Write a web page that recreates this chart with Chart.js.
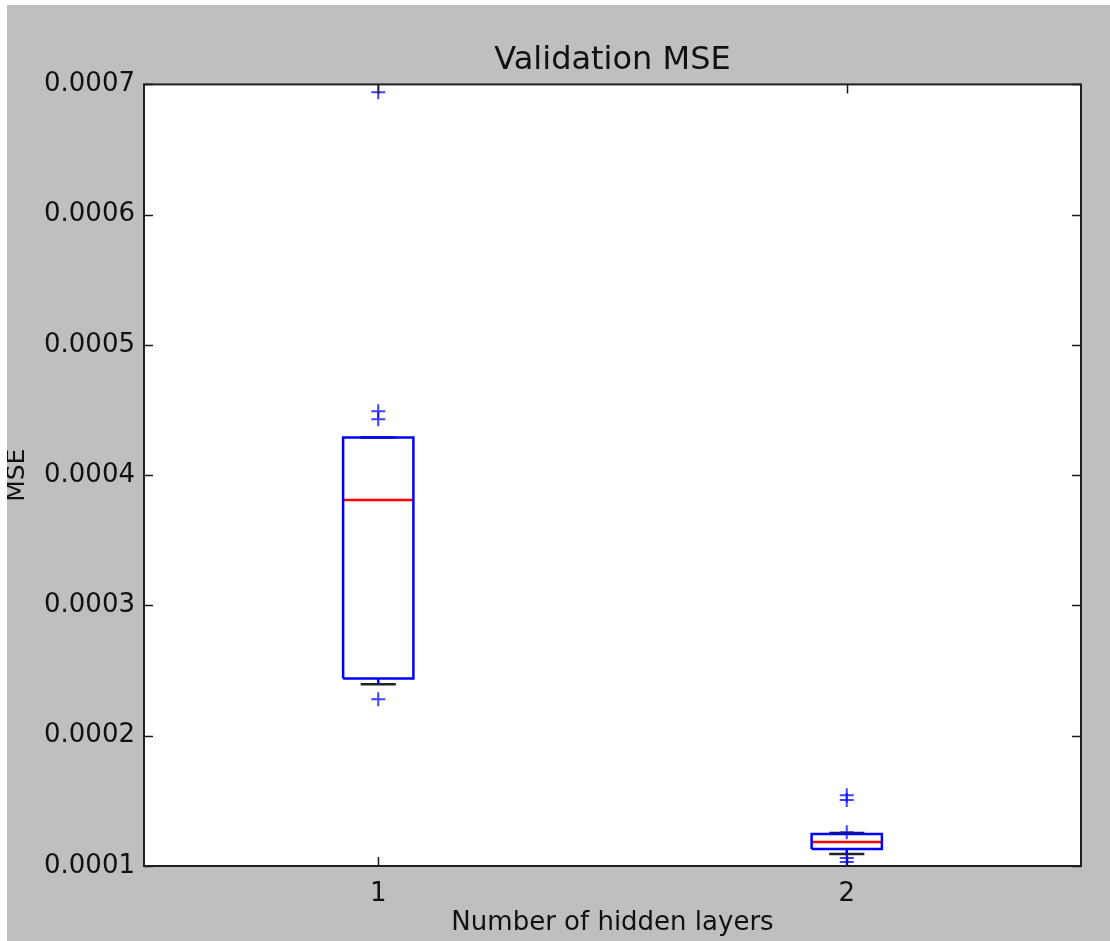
<!DOCTYPE html>
<html lang="en">

<head>
    <meta charset="UTF-8">
    <title>Validation MSE</title>
    <script src="https://cdn.jsdelivr.net/npm/chart.js"></script>
    <style>
        html, body { margin: 0; padding: 0; background: #ffffff; }
        .quadro { position: absolute; left: 7px; top: 5px; width: 1103px; height: 936px; background: #bfbfbf; }
        canvas { display: block; }
    </style>
</head>

<body>
    <div class="quadro">
        <canvas id="graficoMSE" width="1103" height="936"></canvas>
    </div>

<script>
    // numero de camadas escondidas (posicao de cada caixa)
    const camadas = [1, 2];
    // estatisticas de cada caixa
    const q1 = [0.000244, 0.0001130];
    const medianas = [0.000381, 0.0001184];
    const q3 = [0.000429, 0.0001245];
    const bigodeMin = [0.0002396, 0.0001092];
    const bigodeMax = [0.000429, 0.0001253];
    // pontos fora dos bigodes
    const outliers = [
        [0.000694, 0.000449, 0.000443, 0.000228],
        [0.0001544, 0.0001506, 0.000126, 0.0001061, 0.000103]
    ];
    const ticksY = [0.0001, 0.0002, 0.0003, 0.0004, 0.0005, 0.0006, 0.0007];

    const LARGURA_CAIXA = 0.15;
    const fonte = 'DejaVu Sans';

    function segmento(pontos, cor, extra) {
        return Object.assign({
            data: pontos,
            showLine: true,
            borderColor: cor,
            borderWidth: 2.5,
            pointRadius: 0,
            fill: false,
            tension: 0
        }, extra || {});
    }

    let datasets = [];
    for (let i = 0; i < camadas.length; i++) {
        const x = camadas[i];
        const m = LARGURA_CAIXA / 2;
        const c = LARGURA_CAIXA / 4;
        // caixa
        datasets.push(segmento([
            { x: x - m, y: q1[i] }, { x: x + m, y: q1[i] },
            { x: x + m, y: q3[i] }, { x: x - m, y: q3[i] },
            { x: x - m, y: q1[i] }
        ], '#0000ff'));
        // bigodes
        datasets.push(segmento([{ x: x, y: q1[i] }, { x: x, y: bigodeMin[i] }], '#0000ff', { borderDash: [6, 6] }));
        datasets.push(segmento([{ x: x, y: q3[i] }, { x: x, y: bigodeMax[i] }], '#0000ff', { borderDash: [6, 6] }));
        // tampas
        datasets.push(segmento([{ x: x - c, y: bigodeMin[i] }, { x: x + c, y: bigodeMin[i] }], '#222222'));
        datasets.push(segmento([{ x: x - c, y: bigodeMax[i] }, { x: x + c, y: bigodeMax[i] }], '#222222'));
        // mediana
        datasets.push(segmento([{ x: x - m, y: medianas[i] }, { x: x + m, y: medianas[i] }], '#ff0000'));
        // outliers
        datasets.push({
            data: outliers[i].map(function (v) { return { x: x, y: v }; }),
            showLine: false,
            pointStyle: 'cross',
            pointRadius: 7,
            pointBorderWidth: 2,
            pointBorderColor: 'rgba(0, 0, 255, 0.75)',
            pointBackgroundColor: 'rgba(0, 0, 255, 0.75)'
        });
    }

    // fundo branco da area do grafico, moldura e ticks para dentro
    const molduraPlugin = {
        id: 'moldura',
        beforeDraw(chart) {
            const a = chart.chartArea;
            const ctx = chart.ctx;
            ctx.save();
            ctx.fillStyle = '#ffffff';
            ctx.fillRect(a.left, a.top, a.right - a.left, a.bottom - a.top);
            ctx.restore();
        },
        afterDraw(chart) {
            const a = chart.chartArea;
            const ctx = chart.ctx;
            const tam = 9;
            ctx.save();
            ctx.strokeStyle = '#1a1a1a';
            ctx.lineWidth = 1.5;
            ctx.beginPath();
            chart.scales.y.ticks.forEach(function (t) {
                const py = Math.round(chart.scales.y.getPixelForValue(t.value)) + 0.5;
                ctx.moveTo(a.left, py); ctx.lineTo(a.left + tam, py);
                ctx.moveTo(a.right, py); ctx.lineTo(a.right - tam, py);
            });
            chart.scales.x.ticks.forEach(function (t) {
                const px = Math.round(chart.scales.x.getPixelForValue(t.value)) + 0.5;
                ctx.moveTo(px, a.bottom); ctx.lineTo(px, a.bottom - tam);
                ctx.moveTo(px, a.top); ctx.lineTo(px, a.top + tam);
            });
            ctx.stroke();
            ctx.lineWidth = 2;
            ctx.strokeStyle = '#202020';
            ctx.strokeRect(a.left, a.top, a.right - a.left, a.bottom - a.top);
            ctx.restore();
        }
    };

    const config = {
        type: 'scatter',
        data: { datasets: datasets },
        options: {
            responsive: false,
            animation: false,
            layout: { padding: { top: 0, right: 29, bottom: 0, left: 0 } },
            plugins: {
                legend: { display: false },
                tooltip: { enabled: false },
                title: {
                    display: true,
                    fullSize: false,
                    text: 'Validation MSE',
                    color: '#111111',
                    font: { family: fonte, size: 32, weight: 'normal', lineHeight: 1.2 },
                    padding: { top: 36, bottom: 5 }
                }
            },
            scales: {
                x: {
                    type: 'linear',
                    min: 0.5,
                    max: 2.5,
                    grid: { display: false, drawTicks: false },
                    border: { display: false },
                    afterBuildTicks: function (axis) {
                        axis.ticks = camadas.map(function (v) { return { value: v }; });
                    },
                    afterFit: function (axis) { axis.height = 75; },
                    ticks: {
                        color: '#111111',
                        padding: 13,
                        font: { family: fonte, size: 26 },
                        callback: function (v) { return String(v); }
                    },
                    title: {
                        display: true,
                        text: 'Number of hidden layers',
                        color: '#111111',
                        font: { family: fonte, size: 26, lineHeight: 1.2 },
                        padding: { top: 0, bottom: 2 }
                    }
                },
                y: {
                    type: 'linear',
                    min: 0.0001,
                    max: 0.0007,
                    grid: { display: false, drawTicks: false },
                    border: { display: false },
                    afterBuildTicks: function (axis) {
                        axis.ticks = ticksY.map(function (v) { return { value: v }; });
                    },
                    afterFit: function (axis) { axis.width = 137; },
                    ticks: {
                        color: '#111111',
                        padding: 9,
                        font: { family: fonte, size: 26 },
                        callback: function (v) { return v.toFixed(4); }
                    },
                    title: {
                        display: true,
                        text: 'MSE',
                        color: '#111111',
                        font: { family: fonte, size: 25, lineHeight: 0.8 },
                        padding: { top: 0, bottom: 0 }
                    }
                }
            }
        },
        plugins: [molduraPlugin]
    };

    let graficoMSE = new Chart(document.getElementById('graficoMSE'), config);
</script>
</body>

</html>
